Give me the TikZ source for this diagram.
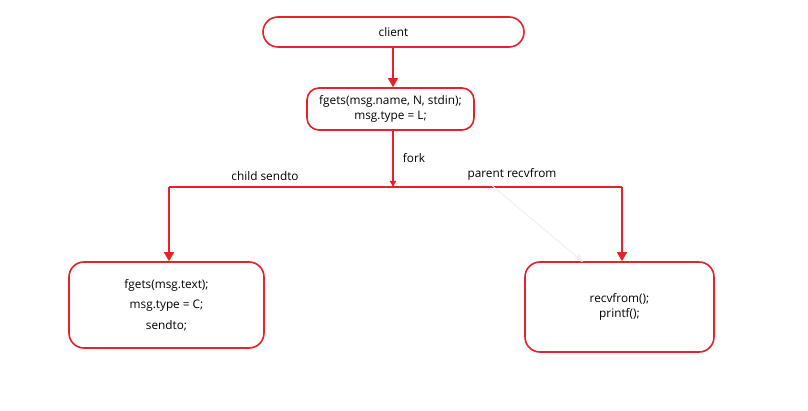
\documentclass[tikz,border=0pt]{standalone}
\usepackage{fontspec}
\setmainfont{Open Sans}
\usetikzlibrary{arrows.meta}
\definecolor{lred}{HTML}{E8202A}
\tikzset{
  box/.style={draw=lred, line width=1.6pt, fill=white, align=center, font=\fontsize{11.8}{14.5}\selectfont, inner sep=0pt},
  conn/.style={draw=lred, line width=1.6pt},
  arr/.style={conn, -{Triangle[length=9pt,width=10pt]}},
  lbl/.style={font=\fontsize{11.8}{14}\selectfont, inner sep=0pt}
}
\begin{document}
\begin{tikzpicture}[x=1pt,y=-1pt]
\useasboundingbox (0,0) rectangle (808,411);
\node[box, rounded corners=15pt, minimum width=261pt, minimum height=30pt] (client) at (393.5,32) {client};
\node[box, rounded corners=12pt, minimum width=167pt, minimum height=42pt] (fg) at (390.5,109) {fgets(msg.name, N, stdin);\\msg.type = L;};
\node[box, rounded corners=15pt, minimum width=195pt, minimum height=86pt] (left) at (166.5,305) {fgets(msg.text);\\[6pt]msg.type = C;\\[6pt]sendto;};
\node[box, rounded corners=15pt, minimum width=189pt, minimum height=90pt] (right) at (619.5,307) {recvfrom();\\printf();};
\coordinate (fork) at (393,187);
\coordinate (lc) at (169,187);
\coordinate (rc) at (622,187);
\draw[arr] (client.south -| 393,0) -- (fg.north -| 393,0);
\draw[conn, -{Triangle[length=6pt,width=6pt]}] (fg.south -| 393,0) -- (fork);
\draw[conn] (lc) -- (rc);
\draw[arr] (lc) -- (left.north -| lc);
\draw[arr] (rc) -- (right.north -| rc);
\draw[black!6, line width=1pt, -{Triangle[length=8pt,width=7pt]}] (489,183) -- (583,262);
\node[lbl] (forklbl) at (414,158) {fork};
\node[lbl] (child) at (265,176) {child sendto};
\node[lbl] (parent) at (512,174) {parent recvfrom};
\end{tikzpicture}
\end{document}
